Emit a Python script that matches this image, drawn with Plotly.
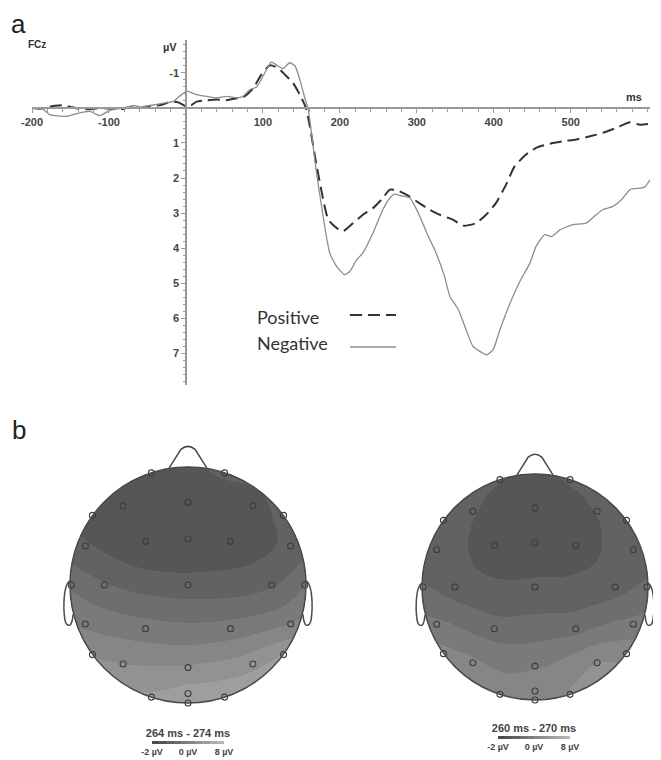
import numpy as np
import plotly.graph_objects as go

# The page body adds an 8 px margin, so the figure is 8 px smaller and all
# pixel positions below are measured in window coordinates minus that offset.
W, H, OFF = 661, 760, 8
FW, FH = W - OFF, H - OFF
def px(x): return (x - OFF) / FW
def py(y): return 1 - (y - OFF) / FH

# ---------------- ERP data (FCz) ----------------
t_pos = [-200,-190,-180,-170,-160,-150,-140,-130,-120,-110,-100,-90,-80,-70,-60,-50,-40,-30,-20,-10,
         0,7,14,27,40,52,62,74,87,98,109,116,122,130,139,148,155,160,170,185,196,204,217,230,243,254,
         265,274,287,300,313,330,347,360,377,390,403,416,427,442,455,473,490,507,525,542,559,577,590,603]
v_pos = [0.0,0.02,-0.02,-0.06,-0.08,-0.03,0.02,0.04,0.03,0.0,0.02,0.04,0.02,-0.02,0.0,-0.03,-0.06,-0.1,-0.18,-0.16,
         -0.05,-0.08,-0.18,-0.22,-0.24,-0.22,-0.26,-0.3,-0.55,-0.95,-1.22,-1.18,-1.1,-0.92,-0.72,-0.38,-0.05,0.4,1.67,3.19,3.43,3.52,3.29,3.05,2.86,2.62,
         2.33,2.35,2.48,2.67,2.86,3.05,3.19,3.36,3.29,3.05,2.71,2.19,1.67,1.33,1.14,1.02,0.95,0.9,0.81,0.71,0.57,0.41,0.48,0.45]

t_neg = [-200,-185,-177,-155,-142,-125,-112,-99,-81,-68,-60,-47,-29,-16,-6,1,14,27,40,53,66,74,83,92,100,111,120,126,135,142,
         148,155,159,170,187,196,206,213,222,230,243,256,265,271,280,291,302,313,325,336,343,354,364,373,382,391,399,408,421,
         434,447,455,466,475,486,503,520,533,542,555,566,577,590,596,603]
v_neg = [0.0,0.05,0.19,0.24,0.16,0.1,0.22,0.07,0.0,-0.07,-0.03,-0.07,-0.14,-0.19,-0.38,-0.48,-0.38,-0.33,-0.29,-0.33,-0.29,-0.33,-0.52,-0.6,-0.9,-1.31,-1.19,-1.12,-1.29,-1.19,
         -0.81,-0.24,0.05,1.9,4.15,4.53,4.76,4.67,4.33,4.14,3.57,2.9,2.57,2.46,2.51,2.57,3.0,3.57,4.14,4.81,5.38,5.76,6.33,6.81,6.95,7.05,6.91,6.33,5.58,
         4.95,4.43,3.95,3.62,3.67,3.48,3.33,3.29,3.05,2.9,2.81,2.62,2.33,2.29,2.26,2.05]

x_ticks = [-200, -100, 100, 200, 300, 400, 500]
y_ticks = [-1, 1, 2, 3, 4, 5, 6, 7]

# ---------------- Topographic maps ----------------
elec_names = ["Fp1","Fp2","F7","F3","Fz","F4","F8","FT7","FC3","FCz","FC4","FT8","T7","C3","Cz","C4","T8",
              "TP7","CP3","CP4","TP8","P7","P3","Pz","P4","P8","POz","O1","Oz","O2"]
elec_x = [-0.31,0.31,-0.81,-0.55,0.0,0.55,0.81,-0.87,-0.36,0.0,0.36,0.87,-0.99,-0.71,0.0,0.71,0.99,
          -0.87,-0.36,0.36,0.87,-0.81,-0.55,0.0,0.55,0.81,0.0,-0.31,0.0,0.31]
elec_y = [0.95,0.95,0.59,0.67,0.70,0.67,0.59,0.33,0.37,0.39,0.37,0.33,0.0,0.0,0.0,0.0,0.0,
          -0.33,-0.37,-0.37,-0.33,-0.59,-0.67,-0.70,-0.67,-0.59,-0.92,-0.95,-1.0,-0.95]
vals_264_274 = [-0.5,0.15,-0.45,-0.9,-0.8,-0.35,0.3,0.15,-0.75,-0.8,-0.5,0.3,1.8,1.1,0.45,0.9,1.95,
                2.8,2.45,2.45,3.0,3.9,4.0,4.1,4.6,5.0,5.4,5.2,5.5,5.8]
vals_260_270 = [0.05,0.1,0.5,0.1,-0.8,0.05,0.4,0.6,-0.5,-0.9,-0.4,0.5,1.1,0.6,0.3,0.65,1.2,
                2.25,1.45,1.7,2.35,3.3,3.2,2.9,4.0,3.6,3.6,3.5,3.8,4.1]
map_titles = ["264 ms - 274 ms", "260 ms - 270 ms"]
cbar_text = ["-2 µV", "0 µV", "8 µV"]

def tps_grid(xs, ys, vs, g, lam=0.002):
    xs, ys, vs = np.asarray(xs), np.asarray(ys), np.asarray(vs)
    n = len(xs)
    d = np.hypot(xs[:, None] - xs[None, :], ys[:, None] - ys[None, :])
    K = np.where(d > 0, d**2 * np.log(np.maximum(d, 1e-12)), 0.0) + lam * np.eye(n)
    A = np.zeros((n + 3, n + 3))
    A[:n, :n] = K
    A[:n, n] = 1; A[:n, n + 1] = xs; A[:n, n + 2] = ys
    A[n, :n] = 1; A[n + 1, :n] = xs; A[n + 2, :n] = ys
    sol = np.linalg.solve(A, np.concatenate([vs, np.zeros(3)]))
    w, a = sol[:n], sol[n:]
    GX, GY = np.meshgrid(g, g)
    D = np.hypot(GX[..., None] - xs, GY[..., None] - ys)
    U = np.where(D > 0, D**2 * np.log(np.maximum(D, 1e-12)), 0.0)
    Z = U @ w + a[0] + a[1] * GX + a[2] * GY
    Z[np.hypot(GX, GY) > 1.0] = np.nan
    return Z

grid = np.linspace(-1, 1, 241)

# discrete gray colour scale, one band per µV from -2 to 8
grays = [74 + 12 * k for k in range(10)]
cscale = []
for k, gv in enumerate(grays):
    c = f"rgb({gv},{gv},{gv})"
    cscale.append([k / 10, c])
    cscale.append([(k + 1) / 10, c])

fig = go.Figure()

fig.add_trace(go.Scatter(x=t_pos, y=v_pos, mode="lines", name=" ",
                         line=dict(color="#333333", width=2, dash="12px,6px", shape="spline", smoothing=0.5),
                         xaxis="x", yaxis="y", legend="legend", hoverinfo="skip"))
fig.add_trace(go.Scatter(x=t_neg, y=v_neg, mode="lines", name=" ",
                         line=dict(color="#8c8c8c", width=1.3, shape="spline", smoothing=0.5),
                         xaxis="x", yaxis="y", legend="legend2", hoverinfo="skip"))

heads = [
    dict(vals=vals_264_274, xa="x2", ya="y2", cbx=188, cby=729, title=map_titles[0]),
    dict(vals=vals_260_270, xa="x3", ya="y3", cbx=534, cby=724, title=map_titles[1]),
]
for hd in heads:
    Z = tps_grid(elec_x, elec_y, hd["vals"], grid)
    fig.add_trace(go.Heatmap(
        x=grid, y=grid, z=Z, xaxis=hd["xa"], yaxis=hd["ya"], colorscale=cscale, zmin=-2, zmax=8,
        hoverinfo="skip", showscale=True,
        colorbar=dict(orientation="h", x=px(hd["cbx"]), xanchor="center", y=py(hd["cby"]), yanchor="top",
                      len=72, lenmode="pixels", thickness=3, outlinewidth=0, xpad=0, ypad=0,
                      tickvals=[-2, 3, 8], ticktext=cbar_text, ticks="",
                      tickfont=dict(family="Liberation Sans", size=9, color="#444", weight="bold"),
                      title=dict(text=hd["title"], side="top",
                                 font=dict(family="Liberation Sans", size=11, color="#444", weight="bold")))))
    fig.add_trace(go.Scatter(x=elec_x, y=elec_y, mode="markers", text=elec_names, hoverinfo="text",
                             marker=dict(symbol="circle-open", size=6, color="#3c3c3c", line=dict(width=1.1)),
                             xaxis=hd["xa"], yaxis=hd["ya"], showlegend=False))

shapes = []
for xa, ya in [("x2", "y2"), ("x3", "y3")]:
    lc = dict(color="#4a4a4a", width=1.5)
    shapes.append(dict(type="circle", xref=xa, yref=ya, x0=-1, y0=-1, x1=1, y1=1, line=lc, layer="above"))
    shapes.append(dict(type="path", xref=xa, yref=ya, line=lc, layer="above",
                       path="M -0.16,0.99 L -0.06,1.15 Q 0,1.2 0.06,1.15 L 0.16,0.99"))
    shapes.append(dict(type="path", xref=xa, yref=ya, line=lc, layer="above",
                       path="M -0.99,0.04 C -1.07,0.02 -1.06,-0.30 -1.03,-0.33 C -1.0,-0.36 -0.98,-0.33 -0.975,-0.25"))
    shapes.append(dict(type="path", xref=xa, yref=ya, line=lc, layer="above",
                       path="M 0.99,0.04 C 1.07,0.02 1.06,-0.30 1.03,-0.33 C 1.0,-0.36 0.98,-0.33 0.975,-0.25"))

tickfont = dict(family="Liberation Sans", size=11, color="#444", weight="bold")
axcol = "#999999"
annots = [
    dict(text="a", x=px(10), y=py(8), xanchor="left", yanchor="top", borderpad=0,
         font=dict(family="Liberation Sans", size=26, color="#222")),
    dict(text="b", x=px(10), y=py(430), xanchor="left", yanchor="middle",
         font=dict(family="Liberation Sans", size=26, color="#222")),
    dict(text="FCz", x=px(37), y=py(45), xanchor="center", yanchor="middle",
         font=dict(family="Liberation Sans", size=10, color="#333", weight="bold")),
    dict(text="µV", x=px(170), y=py(47), xanchor="center", yanchor="middle",
         font=dict(family="Liberation Sans", size=11, color="#333", weight="bold")),
    dict(text="ms", x=px(634), y=py(97), xanchor="center", yanchor="middle",
         font=dict(family="Liberation Sans", size=11, color="#333", weight="bold")),
    dict(text="Positive", x=px(255), y=py(317), xanchor="left", yanchor="middle",
         font=dict(family="Lato", size=18, color="#333")),
    dict(text="Negative", x=px(255), y=py(343), xanchor="left", yanchor="middle",
         font=dict(family="Lato", size=18, color="#333")),
]
for a in annots:
    a.update(xref="paper", yref="paper", showarrow=False)

lg = dict(xanchor="left", yanchor="middle", bgcolor="rgba(0,0,0,0)", itemwidth=46,
          font=dict(size=12), borderwidth=0)
fig.update_layout(
    width=FW, height=FH, margin=dict(l=0, r=0, t=0, b=0, autoexpand=False),
    paper_bgcolor="white", plot_bgcolor="white",
    legend=dict(x=px(345), y=py(315), **lg),
    legend2=dict(x=px(345), y=py(347), **lg),
    xaxis=dict(domain=[px(32), px(650)], range=[-200, 603], anchor="free", position=py(108),
               showline=True, linecolor=axcol, linewidth=1.5, showgrid=False, zeroline=False,
               ticks="outside", ticklen=4, tickcolor=axcol, tickmode="array", tickvals=x_ticks,
               ticktext=[str(v) for v in x_ticks], tickfont=tickfont,
               minor=dict(tickmode="linear", tick0=0, dtick=20, ticks="outside", ticklen=3, tickcolor=axcol)),
    yaxis=dict(domain=[py(385), py(40)], range=[7.91, -1.94], anchor="free", position=px(186),
               showline=True, linecolor=axcol, linewidth=1.5, showgrid=False, zeroline=False,
               ticks="outside", ticklen=4, tickcolor=axcol, tickmode="array", tickvals=y_ticks,
               ticktext=[str(v) for v in y_ticks], tickfont=tickfont,
               minor=dict(tickmode="linear", tick0=0, dtick=0.2, ticks="outside", ticklen=2, tickcolor=axcol)),
    xaxis2=dict(domain=[px(40.5), px(335.5)], range=[-1.25, 1.25], anchor="y2", visible=False),
    yaxis2=dict(domain=[py(732.5), py(437.5)], range=[-1.25, 1.25], anchor="x2", visible=False),
    xaxis3=dict(domain=[px(393.75), px(659.3)], range=[-1.25, 1.1], anchor="y3", visible=False),
    yaxis3=dict(domain=[py(728.25), py(445.75)], range=[-1.25, 1.25], anchor="x3", visible=False),
    shapes=shapes, annotations=annots,
)

fig.write_html("out.html")
